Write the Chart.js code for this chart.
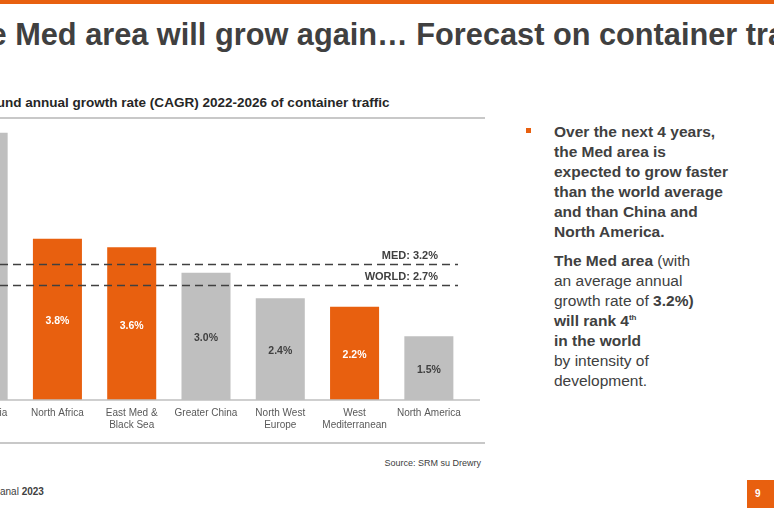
<!DOCTYPE html>
<html>
<head>
<meta charset="utf-8">
<script src="https://cdn.jsdelivr.net/npm/chart.js@4"></script>
<style>
  body { margin: 0; width: 774px; height: 516px; overflow: hidden; background: #fff; position: relative; font-family: "Liberation Sans", Arial, sans-serif; }
  .topbar { position: absolute; left: 0; top: 0; width: 774px; height: 4px; background: #E8600F; }
  .title { position: absolute; left: -50px; top: 16px; white-space: nowrap; font-size: 32px; font-weight: bold; color: #404040; transform: scaleX(0.96); transform-origin: 50px 0; }
  .subtitle { position: absolute; left: -48px; top: 95px; white-space: nowrap; font-size: 13px; font-weight: bold; color: #262626; transform: scaleX(1.04); transform-origin: 48px 0; }
  .rule { position: absolute; left: 0; width: 485px; height: 2px; background: #c8c8c8; }
  #wrap { position: absolute; left: -54px; top: 100px; width: 544px; height: 340px; }
  .source { position: absolute; right: 293px; top: 458px; font-size: 9px; color: #404040; }
  .footer { position: absolute; left: 0; top: 486px; font-size: 10px; color: #404040; }
  .page { position: absolute; left: 747px; top: 480px; width: 27px; height: 28px; background: #E8600F; color: #fff; font-size: 10px; font-weight: bold; line-height: 28px; text-indent: 8px; }
  .side { position: absolute; left: 554px; top: 122px; width: 220px; font-size: 15.5px; line-height: 20.1px; color: #404040; }
  .side p { margin: 0; }
  .side .b { font-weight: bold; }
  .side sup { font-size: 8px; line-height: 0; vertical-align: 6px; }
  .bullet { position: absolute; left: 526px; top: 128px; width: 5px; height: 5px; background: #E8600F; }
</style>
</head>
<body>
<div class="topbar"></div>
<div class="title">The Med area will grow again… Forecast on container traffic</div>
<div class="subtitle">Compound annual growth rate (CAGR) 2022-2026 of container traffic</div>
<div class="rule" style="top:117px"></div>
<div class="rule" style="top:442px"></div>
<div id="wrap"><canvas id="barChart"></canvas></div>
<div class="source">Source: SRM su Drewry</div>
<div class="footer">anal <b>2023</b></div>
<div class="page">9</div>
<div class="bullet"></div>
<div class="side">
  <p class="b">Over the next 4 years,<br>the Med area is<br>expected to grow faster<br>than the world average<br>and than China and<br>North America.</p>
  <p style="margin-top:8px"><b>The Med area</b> (with<br>an average annual<br>growth rate of <b>3.2%)</b><br><b>will rank 4<sup>th</sup></b><br><b>in the world</b><br>by intensity of<br>development.</p>
</div>
<script>
// CAGR 2022-2026 by area (%)
const regions = ["South Asia", "North Africa", ["East Med &", "Black Sea"], "Greater China", ["North West", "Europe"], ["West", "Mediterranean"], "North America"];
const cagr = [6.3, 3.8, 3.6, 3.0, 2.4, 2.2, 1.5];
const isMed = [false, true, true, false, false, true, false];
const refLabels = ["MED: 3.2%", "WORLD: 2.7%"];
const refValues = [3.2, 2.7];

const ORANGE = "#E8600F";
const GREY = "#BFBFBF";
const OFFSET = 54; // canvas starts 54px left of the page

const overlay = {
  id: "overlay",
  afterDatasetsDraw(chart) {
    const ctx = chart.ctx;
    const y = chart.scales.y;
    const area = chart.chartArea;
    // baseline
    ctx.save();
    ctx.strokeStyle = "#BFBFBF";
    ctx.lineWidth = 1.5;
    ctx.beginPath();
    ctx.moveTo(area.left, area.bottom);
    ctx.lineTo(OFFSET + 480, area.bottom);
    ctx.stroke();
    // value labels in bars
    const meta = chart.getDatasetMeta(0);
    ctx.font = "bold 10.5px 'Liberation Sans', Arial";
    ctx.textAlign = "center";
    ctx.textBaseline = "middle";
    meta.data.forEach((bar, i) => {
      ctx.fillStyle = isMed[i] ? "#ffffff" : "#404040";
      ctx.fillText(cagr[i].toFixed(1) + "%", bar.x, (bar.y + bar.base) / 2 + 2);
    });
    // reference lines
    ctx.strokeStyle = "#404040";
    ctx.lineWidth = 1.5;
    ctx.setLineDash([8, 5]);
    ctx.font = "bold 11px 'Liberation Sans', Arial";
    ctx.textAlign = "right";
    ctx.textBaseline = "bottom";
    refValues.forEach((v, i) => {
      const py = Math.round(y.getPixelForValue(v)) + 0.5;
      ctx.beginPath();
      ctx.moveTo(OFFSET, py);
      ctx.lineTo(OFFSET + 458, py);
      ctx.stroke();
      ctx.fillStyle = "#404040";
      ctx.fillText(refLabels[i], OFFSET + 438, py - 3);
    });
    ctx.restore();
  }
};

const ctx = document.getElementById("barChart").getContext("2d");
const myBarChart = new Chart(ctx, {
  type: "bar",
  data: {
    labels: regions,
    datasets: [{
      data: cagr,
      backgroundColor: isMed.map(m => m ? ORANGE : GREY),
      barPercentage: 0.66,
      categoryPercentage: 1
    }]
  },
  options: {
    responsive: true,
    maintainAspectRatio: false,
    animation: false,
    layout: { padding: { left: 0, right: 24, top: 3, bottom: 0 } },
    plugins: { legend: { display: false }, tooltip: { enabled: false } },
    scales: {
      x: {
        grid: { display: false, drawTicks: false },
        border: { display: false },
        ticks: { color: "#595959", padding: 7, maxRotation: 0, autoSkip: false, font: { size: 10, family: "'Liberation Sans', Arial" } },
        afterFit: (s) => { s.height = 40; }
      },
      y: { display: false, min: 0, max: 7 }
    }
  },
  plugins: [overlay]
});
</script>
</body>
</html>
